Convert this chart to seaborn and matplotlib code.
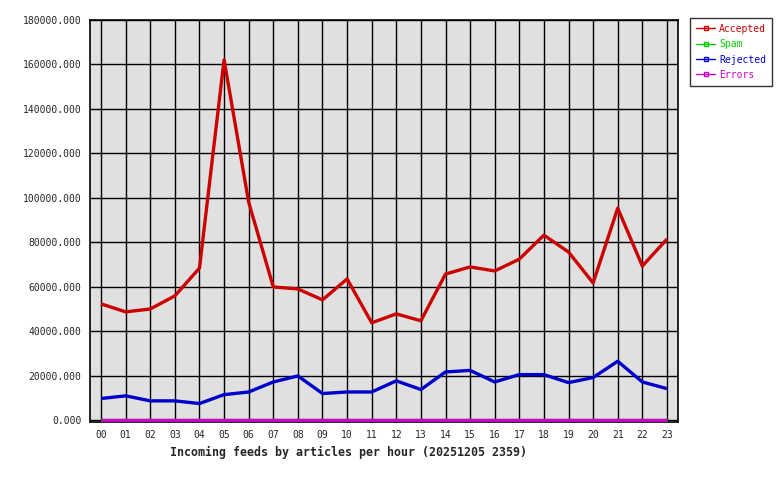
import matplotlib
matplotlib.use("Agg")
import matplotlib.pyplot as plt
import matplotlib.ticker as mticker
from matplotlib.lines import Line2D
import seaborn as sns
import pandas as pd

hours = ["%02d" % h for h in range(24)]
accepted = [52400, 48800, 50100, 56000, 68500, 162100, 98100, 60000, 59100, 54200,
            63600, 43900, 47900, 44800, 65800, 69000, 67200, 72500, 83300, 75700,
            61800, 95400, 69400, 81500]
spam = [0] * 24
rejected = [9850, 11060, 8800, 8800, 7600, 11600, 12800, 17300, 20000, 12100,
            12800, 12800, 17800, 13900, 21800, 22500, 17300, 20600, 20600, 17000,
            19300, 26600, 17300, 14300]
errors = [0] * 24

series = {"Accepted": accepted, "Spam": spam, "Rejected": rejected, "Errors": errors}
colors = {"Accepted": "#cc0000", "Spam": "#00cc00", "Rejected": "#0000cc", "Errors": "#cc00cc"}

rows = []
for name, vals in series.items():
    for i, v in enumerate(vals):
        rows.append({"hour": i, "articles": v, "kind": name})
df = pd.DataFrame(rows)

sns.set_style("white")
plt.rcParams["font.family"] = ["DejaVu Sans Mono"]

fig = plt.figure(figsize=(7.8, 4.8), dpi=100)
ax = fig.add_axes([90 / 780, 1 - 422 / 480, 588 / 780, 402 / 480])
ax.set_facecolor("#e0e0e0")

sns.lineplot(data=df, x="hour", y="articles", hue="kind", palette=colors,
             linewidth=2.4, ax=ax, legend=False)
for ln in ax.lines:
    ln.set_zorder(3)
    ln.set_solid_capstyle("butt")

ax.set_xlim(-0.45, 23.45)
ax.set_ylim(-700, 180000)
ax.set_xticks(range(24))
ax.set_xticklabels(hours)
ax.yaxis.set_major_locator(mticker.MultipleLocator(20000))
ax.yaxis.set_major_formatter(mticker.FormatStrFormatter("%.3f"))
ax.grid(True, color="black", linewidth=1)
ax.set_axisbelow(True)
for s in ax.spines.values():
    s.set_color("black")
    s.set_linewidth(1.2)
ax.tick_params(axis="y", length=4, width=1, color="black", labelsize=7, pad=2)
ax.tick_params(axis="x", length=0, labelsize=7, pad=6)
ax.set_xlabel("")
ax.set_ylabel("")

fig.text(349 / 780, 1 - 452 / 480, "Incoming feeds by articles per hour (20251205 2359)",
         ha="center", va="center", fontsize=8.4, fontweight="bold")

handles = [Line2D([0], [0], color=colors[n], linewidth=1, marker="s", markersize=3,
                  markerfacecolor="none", markeredgecolor=colors[n]) for n in series]
leg = fig.legend(handles, list(series), loc="upper left",
                 bbox_to_anchor=(690 / 780, 1 - 18 / 480), fontsize=7,
                 frameon=True, fancybox=False, edgecolor="black", labelcolor="linecolor",
                 handlelength=2.0, handletextpad=0.4, borderpad=0.6, labelspacing=0.55,
                 borderaxespad=0)
leg.get_frame().set_linewidth(1)

fig.savefig("out.png", dpi=100)
